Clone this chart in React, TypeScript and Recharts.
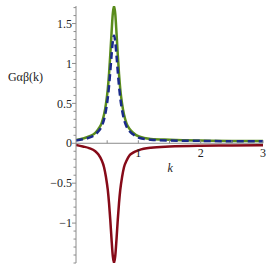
import React from 'react';
import { LineChart, Line, XAxis, YAxis, ReferenceLine, ReferenceDot } from 'recharts';

const kValues = [0, 0.11, 0.21, 0.31, 0.36, 0.41, 0.45, 0.48, 0.51, 0.53, 0.55, 0.57, 0.59, 0.61, 0.63, 0.65, 0.67, 0.69, 0.71, 0.74, 0.77, 0.81, 0.86, 0.91, 1.01, 1.2, 1.5, 2, 2.5, 3];
const greenValues = [0.04, 0.06, 0.085, 0.13, 0.18, 0.25, 0.36, 0.49, 0.68, 0.87, 1.11, 1.38, 1.62, 1.72, 1.62, 1.38, 1.11, 0.87, 0.68, 0.49, 0.36, 0.25, 0.18, 0.135, 0.085, 0.055, 0.045, 0.035, 0.03, 0.03];
const blueValues = [0.035, 0.05, 0.07, 0.11, 0.15, 0.21, 0.3, 0.41, 0.57, 0.72, 0.9, 1.1, 1.27, 1.35, 1.27, 1.1, 0.9, 0.72, 0.57, 0.41, 0.3, 0.21, 0.15, 0.115, 0.07, 0.045, 0.035, 0.03, 0.025, 0.025];
const redValues = [-0.02, -0.04, -0.06, -0.1, -0.14, -0.21, -0.3, -0.42, -0.585, -0.75, -0.96, -1.2, -1.41, -1.5, -1.41, -1.2, -0.96, -0.75, -0.585, -0.42, -0.3, -0.22, -0.15, -0.12, -0.085, -0.055, -0.04, -0.03, -0.027, -0.025];

const yMajorTicks = [-1, -0.5, 0, 0.5, 1, 1.5];
const yMajorLabels = ['\u22121', '\u22120.5', '0', '0.5', '1', '1.5'];
const yAllTicks = [-1.5, -1.4, -1.3, -1.2, -1.1, -1, -0.9, -0.8, -0.7, -0.6, -0.5, -0.4, -0.3, -0.2, -0.1, 0, 0.1, 0.2, 0.3, 0.4, 0.5, 0.6, 0.7, 0.8, 0.9, 1, 1.1, 1.2, 1.3, 1.4, 1.5, 1.6, 1.7];
const xTicks = [0.5, 1, 1.5, 2, 2.5, 3];
const xTickLabels = ['', '1', '', '2', '', '3'];

const data = kValues.map((k, i) => ({ k, g: greenValues[i], b: blueValues[i], r: redValues[i] }));

const FONT = 'Liberation Serif';
const AXIS = '#8c8c8c';

const YTick = (props: any) => {
  const { x, y, payload } = props;
  const v = payload.value;
  const idx = yMajorTicks.findIndex((m) => Math.abs(m - v) < 1e-6);
  const major = idx >= 0;
  return (
    <g>
      <line x1={x - (major ? 4 : 2.5)} x2={x} y1={y} y2={y} stroke={AXIS} strokeWidth={1} />
      {major && (
        <text x={x - 4} y={y} dy="0.35em" textAnchor="end" fontFamily={FONT} fontSize={12} fill="#222">
          {yMajorLabels[idx]}
        </text>
      )}
    </g>
  );
};

export default function App() {
  return (
    <div style={{ position: 'absolute', left: 0, top: 0, width: 270, height: 270, background: '#fff' }}>
      <LineChart width={270} height={270} data={data} margin={{ top: 6, right: 7, bottom: 7, left: 0 }}>
        <XAxis dataKey="k" type="number" domain={[0, 3]} hide allowDataOverflow />
        <YAxis
          type="number"
          domain={[-1.5, 1.72]}
          allowDataOverflow
          ticks={yAllTicks}
          interval={0}
          width={76}
          tickSize={0}
          tickMargin={0}
          tickLine={false}
          axisLine={{ stroke: AXIS, strokeWidth: 1 }}
          tick={<YTick />}
        />
        <ReferenceLine y={0} stroke={AXIS} strokeWidth={1} />
        {xTicks.map((t, i) => (
          <ReferenceDot
            key={t}
            x={t}
            y={0}
            r={0}
            ifOverflow="visible"
            shape={(p: any) => (
              <g>
                <line x1={p.cx} x2={p.cx} y1={p.cy} y2={p.cy - 3} stroke={AXIS} strokeWidth={1} />
                {xTickLabels[i] && (
                  <text x={p.cx} y={p.cy + 14} textAnchor="middle" fontFamily={FONT} fontSize={12} fill="#222">
                    {xTickLabels[i]}
                  </text>
                )}
              </g>
            )}
          />
        ))}
        <Line type="monotone" dataKey="r" stroke="#860a18" strokeWidth={2.5} dot={false} isAnimationActive={false} />
        <Line type="monotone" dataKey="g" stroke="#5a8c1c" strokeWidth={2.5} dot={false} isAnimationActive={false} />
        <Line type="monotone" dataKey="b" stroke="#1a2a8a" strokeWidth={2.5} strokeDasharray="7 4" dot={false} isAnimationActive={false} />
        <ReferenceDot
          x={1.51}
          y={-0.31}
          r={0}
          ifOverflow="visible"
          shape={(p: any) => (
            <text x={p.cx} y={p.cy} dy="0.35em" textAnchor="middle" fontFamily={FONT} fontStyle="italic" fontSize={12} fill="#222">
              k
            </text>
          )}
        />
        <ReferenceDot
          x={0}
          y={0.83}
          r={0}
          ifOverflow="visible"
          shape={(p: any) => (
            <text x={p.cx - 33} y={p.cy} dy="0.35em" textAnchor="end" fontFamily={FONT} fontSize={12} fill="#222">
              Gαβ(k)
            </text>
          )}
        />
      </LineChart>
    </div>
  );
}
